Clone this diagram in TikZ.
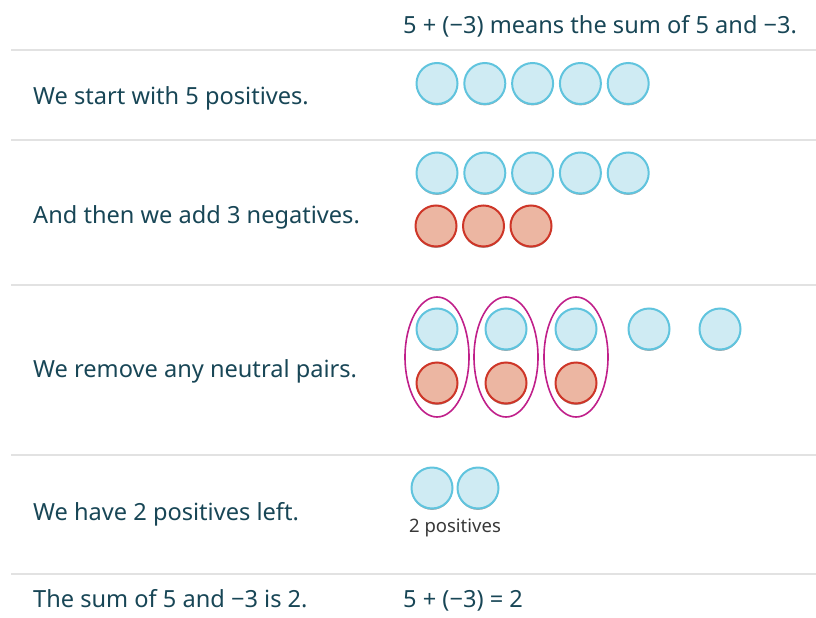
\documentclass[tikz,border=0pt]{standalone}
\usepackage{fontspec}
\setmainfont{Noto Sans}
\usepackage{xcolor}
\usetikzlibrary{shapes.geometric}
\definecolor{inktext}{RGB}{24,70,86}
\definecolor{rulegray}{RGB}{226,226,226}
\definecolor{posfill}{RGB}{207,235,243}
\definecolor{posline}{RGB}{96,196,222}
\definecolor{negfill}{RGB}{236,182,162}
\definecolor{negline}{RGB}{206,54,40}
\definecolor{pairline}{RGB}{192,32,138}

\begin{document}
\begin{tikzpicture}[
        x=1pt, y=-1pt,
        font=\fontsize{23.6}{27}\selectfont,
        caption/.style={anchor=base west, text=inktext, inner sep=0pt},
        tile/.style={circle, minimum size=41pt, inner sep=0pt, line width=2pt,
            preaction={fill=black!35, transform canvas={yshift=-1.4pt}}},
        plustile/.style={tile, draw=posline, fill=posfill},
        minustile/.style={tile, draw=negline, fill=negfill},
        pairring/.style={ellipse, draw=pairline, line width=1.6pt, minimum width=64pt, minimum height=120pt, inner sep=0pt},
        rowrule/.style={draw=rulegray, line width=1.5pt}
    ]
        \useasboundingbox (0,0) rectangle (816,618);

        % row rules
        \foreach \y in {50,140,285,455,574}
            \draw[rowrule] (11,\y) -- (816,\y);

        % texts
        \node[caption] (head) at (403,34) {5 + (−3) means the sum of 5 and −3.};
        \node[caption] (start) at (33,104) {We start with 5 positives.};
        \node[caption] (addneg) at (33,223) {And then we add 3 negatives.};
        \node[caption] (remove) at (33,377) {We remove any neutral pairs.};
        \node[caption] (left) at (33,520) {We have 2 positives left.};
        \node[caption] (sum) at (33,607) {The sum of 5 and −3 is 2.};
        \node[caption] (result) at (403,607) {5 + (−3) = 2};

        % 5 positives
        \foreach \i in {0,...,4}
            \node[plustile] (a\i) at (437+47.8*\i,83.5) {};

        % add 3 negatives
        \foreach \i in {0,...,4}
            \node[plustile] (b\i) at (437+47.8*\i,173) {};
        \foreach \i in {0,...,2}
            \node[minustile] (n\i) at (436+47.5*\i,226) {};

        % neutral pairs
        \foreach \i/\x in {0/437,1/506,2/576}{
            \node[plustile] (p\i) at (\x,329) {};
            \node[minustile] (q\i) at (\x,383) {};
            \node[pairring] (o\i) at (\x,357) {};
        }
        \node[plustile] (p3) at (649,329) {};
        \node[plustile] (p4) at (720,329) {};

        % 2 positives left
        \node[plustile] (r0) at (432,488) {};
        \node[plustile] (r1) at (478,488) {};
        \node[text=black!78, font=\fontsize{18.5}{21}\selectfont, inner sep=0pt] (rlab) at (455,528) {2 positives};
\end{tikzpicture}
\end{document}
